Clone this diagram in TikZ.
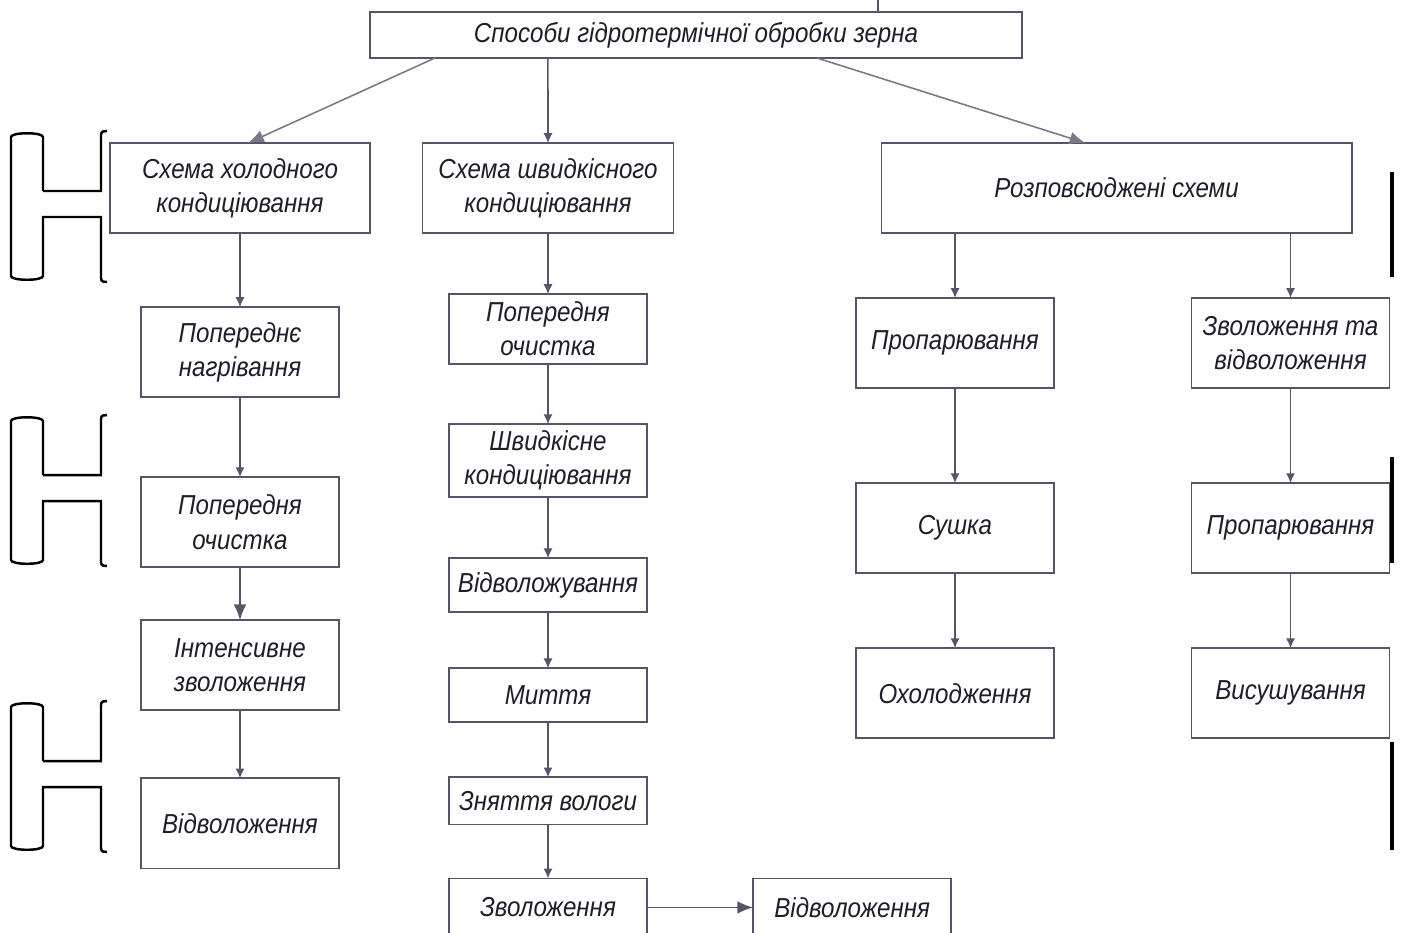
\documentclass[tikz,border=0pt]{standalone}
\usepackage{fontspec}
\setmainfont{Liberation Sans}[FakeStretch=0.88]
\usetikzlibrary{arrows.meta,positioning,calc}
\definecolor{gtInk}{HTML}{1E1E2A}
\definecolor{gtLine}{HTML}{55556A}
\definecolor{gtSoft}{HTML}{7A7A86}
\newcommand{\gtfont}{\fontsize{7.8}{9.7}\selectfont\itshape}
\tikzset{
  blk/.style={draw=gtLine, line width=0.5pt, outer sep=0pt, minimum width=1.98cm, minimum height=0.9cm, inner sep=1pt, align=center, font=\gtfont, text=gtInk},
  arr/.style={-{Latex[length=2.8pt,width=2.6pt]}, line width=0.45pt, draw=gtLine},
  arrL/.style={-{Latex[length=4.5pt,width=3.6pt]}, line width=0.45pt, draw=gtLine},
  brk/.style={line width=0.7pt, draw=black},
}

\begin{document}
\begin{tikzpicture}[x=0.01cm, y=-0.01cm]
\useasboundingbox (0,0) rectangle (1401,932);
\clip (0,0) rectangle (1401,932);

% top
\node[blk, minimum width=6.52cm, minimum height=0.46cm] (top) at (696,35) {Способи гідротермічної обробки зерна};
\coordinate (topin) at (878,0);
\draw[gtLine, line width=0.5pt] (topin) -- (topin |- top.north);

% column heads
\node[blk, minimum width=2.6cm] (cold) at (240,188) {Схема холодного\\кондиціювання};
\node[blk, minimum width=2.51cm] (fast) at (548,188) {Схема швидкісного\\кондиціювання};
\node[blk, minimum width=4.7cm] (usual) at (1116.5,188) {Розповсюджені схеми};

% cold chain
\node[blk, below=0.74cm of cold] (c1) {Попереднє\\нагрівання};
\node[blk, below=0.80cm of c1] (c2) {Попередня\\очистка};
\node[blk, below=0.53cm of c2] (c3) {Інтенсивне\\зволоження};
\node[blk, below=0.68cm of c3] (c4) {Відволоження};

% fast chain
\node[blk, minimum height=0.7cm, below=0.61cm of fast] (f1) {Попередня\\очистка};
\node[blk, minimum height=0.73cm, below=0.60cm of f1] (f2) {Швидкісне\\кондиціювання};
\node[blk, minimum height=0.54cm, below=0.61cm of f2] (f3) {Відволожування};
\node[blk, minimum height=0.54cm, below=0.56cm of f3] (f4) {Миття};
\node[blk, minimum height=0.47cm, below=0.55cm of f4] (f5) {Зняття вологи};
\node[blk, minimum height=0.58cm, below=0.54cm of f5] (f6) {Зволоження};
\node[blk, minimum height=0.58cm, right=1.06cm of f6] (f7) {Відволоження};

% usual schemes
\node[blk] (u1) at (955,343) {Пропарювання};
\node[blk, below=0.95cm of u1] (u2) {Сушка};
\node[blk, below=0.75cm of u2] (u3) {Охолодження};
\node[blk] (v1) at (1290.5,343) {Зволоження та\\відволоження};
\node[blk, below=0.95cm of v1] (v2) {Пропарювання};
\node[blk, below=0.75cm of v2] (v3) {Висушування};

% connectors
\draw[arrL, gtSoft] ([xshift=-2.61cm]top.south) -- ([xshift=0.08cm]cold.north);
\draw[arr] ([xshift=-1.48cm]top.south) -- (fast.north);
\draw[arrL, gtSoft] ([xshift=1.21cm]top.south) -- ([xshift=-0.31cm]usual.north);
\draw[arr] (cold) -- (c1); \draw[arr] (c1) -- (c2); \draw[arrL] (c2) -- (c3); \draw[arr] (c3) -- (c4);
\draw[arr] (fast) -- (f1); \draw[arr] (f1) -- (f2); \draw[arr] (f2) -- (f3);
\draw[arr] (f3) -- (f4); \draw[arr] (f4) -- (f5); \draw[arr] (f5) -- (f6);
\draw[arrL] (f6) -- (f7);
\draw[arr] (usual.south -| u1) -- (u1); \draw[arr] (u1) -- (u2); \draw[arr] (u2) -- (u3);
\draw[arr] (usual.south -| v1) -- (v1); \draw[arr] (v1) -- (v2); \draw[arr] (v2) -- (v3);

% margin marks
\foreach \a/\b in {172/277, 457/563, 742/850}
  \draw[line width=0.9pt] (1392,\a) -- (1392,\b);
\foreach \t in {133,417,703} {
  \draw[brk] (43,\t+58) -- (43,\t+4) .. controls (43,\t-1) and (11,\t-1) .. (11,\t+4)
    -- (11,\t+143) .. controls (11,\t+148) and (43,\t+148) .. (43,\t+143)
    -- (43,\t+84) -- (101,\t+84) -- (101,\t+145) .. controls (101,\t+149) and (104,\t+149) .. (107,\t+149);
  \draw[brk] (43,\t+58) -- (101,\t+58) -- (101,\t+2) .. controls (101,\t-2) and (104,\t-2) .. (107,\t-2);
}
\end{tikzpicture}
\end{document}
